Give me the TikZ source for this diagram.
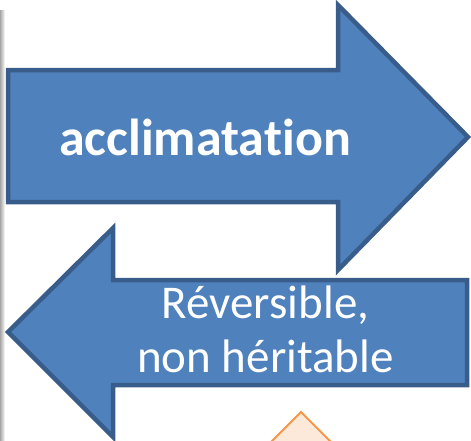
\documentclass[tikz,border=0pt]{standalone}
\usepackage{fontspec}
\setmainfont[Ligatures=NoCommon]{Carlito}
\definecolor{arrfill}{HTML}{4F81BD}
\definecolor{arrline}{HTML}{385D8A}
\definecolor{orline}{HTML}{F79646}
\definecolor{orfill}{HTML}{FDE9D9}
\begin{document}
\begin{tikzpicture}[x=1pt,y=-1pt,
  blockarrow/.style={fill=arrfill,draw=arrline,line width=4.5pt,line join=miter,miter limit=10},
  orangehead/.style={fill=orfill,draw=orline,line width=2pt},
  lbl/.style={text=white,inner sep=0pt}]
\useasboundingbox (0,0) rectangle (471,440);
\clip (0,0) rectangle (471,440);
\shade[left color=black!35,right color=white] (0,10) rectangle (5,440);
\draw[blockarrow] (8,70) -- (338,70) -- (338,5) -- (468,137) -- (338,270) -- (338,202) -- (8,202) -- cycle;
\draw[blockarrow] (467,280) -- (113,280) -- (113,228) -- (8,332) -- (113,437) -- (113,385) -- (467,385) -- cycle;
\draw[orangehead] (268,445) -- (301,412) -- (334,445);
\node[lbl,anchor=base,font=\fontsize{52}{60}\selectfont\bfseries] (accl) at (205,155) {acclimatation};
\node[lbl,anchor=base,font=\fontsize{47}{54}\selectfont] (rev) at (265.5,318) {Réversible,};
\node[lbl,anchor=base,font=\fontsize{47}{54}\selectfont] (nonh) at (265.5,372) {non héritable};
\end{tikzpicture}
\end{document}
